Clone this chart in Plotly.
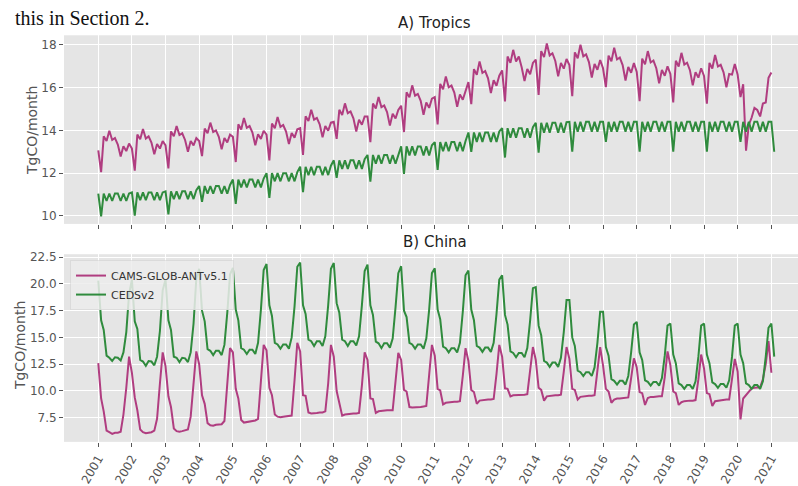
import pandas as pd
import plotly.graph_objects as go

# ---------------- data (monthly, TgCO/month) ----------------
years = list(range(2001, 2022))
year_labels = [str(y) for y in years]

tropics_cams = [
    13.07, 12.05, 13.72, 13.50, 13.98, 13.55, 13.64, 13.34, 12.78, 13.26, 13.03, 13.38,
    13.15, 12.12, 13.80, 13.58, 14.06, 13.62, 13.72, 13.43, 12.88, 13.36, 13.15, 13.50,
    13.30, 12.22, 13.95, 13.72, 14.20, 13.78, 13.86, 13.55, 13.00, 13.50, 13.30, 13.64,
    13.50, 12.80, 14.08, 13.86, 14.36, 13.92, 14.00, 13.70, 13.12, 13.64, 13.44, 13.80,
    13.70, 12.52, 14.28, 14.04, 14.58, 14.12, 14.20, 13.90, 13.30, 13.82, 13.60, 13.98,
    13.80, 12.60, 14.32, 14.10, 14.62, 14.16, 14.25, 13.94, 13.36, 13.88, 13.66, 14.05,
    14.10, 12.85, 14.66, 14.44, 14.96, 14.50, 14.58, 14.28, 13.68, 14.20, 13.98, 14.36,
    14.40, 13.60, 14.96, 14.72, 15.26, 14.80, 14.88, 14.56, 13.95, 14.50, 14.26, 14.65,
    14.65, 13.45, 15.25, 15.02, 15.56, 15.08, 15.16, 14.85, 14.22, 14.78, 14.55, 14.95,
    15.15, 13.92, 15.78, 15.54, 16.10, 15.62, 15.70, 15.38, 14.73, 15.30, 15.05, 15.48,
    15.55, 14.28, 16.17, 15.92, 16.52, 16.01, 16.09, 15.76, 15.10, 15.68, 15.43, 15.86,
    16.25, 15.22, 16.86, 16.60, 17.22, 16.68, 16.77, 16.43, 15.74, 16.34, 16.08, 16.55,
    16.80, 15.35, 17.45, 17.15, 17.76, 17.22, 17.45, 16.95, 16.30, 16.87, 16.62, 17.15,
    17.30, 15.65, 17.70, 17.42, 18.06, 17.50, 17.60, 17.24, 16.52, 17.15, 16.88, 17.33,
    17.05, 15.60, 17.64, 17.37, 18.00, 17.46, 17.55, 17.19, 16.47, 17.10, 16.83, 17.28,
    16.90, 16.02, 17.49, 17.23, 17.86, 17.31, 17.40, 17.05, 16.33, 16.96, 16.69, 17.14,
    16.73, 15.36, 17.35, 17.08, 17.70, 17.17, 17.26, 16.90, 16.20, 16.82, 16.55, 16.99,
    16.63, 15.30, 17.25, 16.98, 17.62, 17.07, 17.16, 16.81, 16.10, 16.72, 16.46, 16.90,
    16.54, 15.25, 17.15, 16.89, 17.52, 16.98, 17.06, 16.71, 16.01, 16.63, 16.60, 17.10,
    16.60, 15.55, 16.15, 13.05, 14.25, 14.60, 15.05, 14.95, 14.65, 15.25, 15.30, 16.45,
    16.70,
]

tropics_ceds = [
    11.05, 9.98, 11.05, 10.70, 11.05, 10.70, 11.05, 11.05, 10.70, 11.05, 10.70, 11.05,
    11.10, 10.02, 11.10, 10.74, 11.10, 10.74, 11.10, 11.10, 10.74, 11.10, 10.74, 11.10,
    11.15, 10.07, 11.15, 10.79, 11.15, 10.79, 11.15, 11.15, 10.79, 11.15, 10.79, 11.20,
    11.40, 10.66, 11.40, 11.04, 11.40, 11.04, 11.40, 11.40, 11.04, 11.40, 11.04, 11.45,
    11.70, 10.57, 11.70, 11.33, 11.70, 11.33, 11.70, 11.70, 11.33, 11.70, 11.33, 11.75,
    12.00, 10.84, 12.00, 11.62, 12.00, 11.62, 12.00, 12.00, 11.62, 12.00, 11.62, 12.05,
    12.30, 11.11, 12.30, 11.91, 12.30, 11.91, 12.30, 12.30, 11.91, 12.30, 11.91, 12.35,
    12.60, 11.78, 12.60, 12.20, 12.60, 12.20, 12.60, 12.60, 12.20, 12.60, 12.20, 12.65,
    12.85, 11.60, 12.85, 12.44, 12.85, 12.44, 12.85, 12.85, 12.44, 12.85, 12.44, 12.90,
    13.25, 11.96, 13.25, 12.83, 13.25, 12.83, 13.25, 13.25, 12.83, 13.25, 12.83, 13.30,
    13.45, 12.15, 13.45, 13.02, 13.45, 13.02, 13.45, 13.45, 13.02, 13.45, 13.02, 13.50,
    13.90, 13.00, 13.90, 13.46, 13.90, 13.46, 13.90, 13.90, 13.46, 13.90, 13.46, 13.95,
    14.10, 12.73, 14.10, 13.65, 14.10, 13.65, 14.10, 14.10, 13.65, 14.10, 13.65, 14.15,
    14.35, 12.96, 14.35, 13.89, 14.35, 13.89, 14.35, 14.35, 13.89, 14.35, 13.89, 14.38,
    14.40, 13.00, 14.40, 13.94, 14.40, 13.94, 14.40, 14.40, 13.94, 14.40, 13.94, 14.40,
    14.40, 13.46, 14.40, 13.94, 14.40, 13.94, 14.40, 14.40, 13.94, 14.40, 13.94, 14.40,
    14.40, 13.00, 14.40, 13.94, 14.40, 13.94, 14.40, 14.40, 13.94, 14.40, 13.94, 14.40,
    14.40, 13.00, 14.40, 13.94, 14.40, 13.94, 14.40, 14.40, 13.94, 14.40, 13.94, 14.40,
    14.40, 13.00, 14.40, 13.94, 14.40, 13.94, 14.40, 14.40, 13.94, 14.40, 13.94, 14.40,
    14.40, 13.46, 14.40, 13.94, 14.40, 13.94, 14.40, 14.40, 13.94, 14.40, 13.94, 14.40,
    14.40, 13.00,
]

china_cams = [
    12.6, 9.3, 8.1, 6.3, 6.15, 6.0, 6.1, 6.1, 6.2, 7.8, 10.3, 13.2,
    11.7, 9.4, 8.2, 6.4, 6.15, 6.05, 6.1, 6.15, 6.3, 7.4, 10.7, 13.6,
    12.3, 9.5, 8.5, 6.5, 6.25, 6.2, 6.25, 6.3, 6.4, 7.6, 10.9, 13.7,
    12.5, 9.6, 8.8, 7.0, 6.8, 6.75, 6.85, 6.85, 6.9, 7.2, 10.5, 14.0,
    13.6, 10.2, 9.3, 7.3, 7.05, 7.1, 7.15, 7.2, 7.25, 7.4, 10.8, 14.3,
    13.8, 10.3, 9.6, 7.8, 7.6, 7.55, 7.6, 7.65, 7.65, 7.7, 11.0, 14.5,
    13.7, 9.6, 9.55, 8.0, 7.9, 7.9, 7.95, 8.0, 8.0, 8.1, 10.7, 14.3,
    13.2, 10.0, 9.0, 7.7, 7.8, 7.85, 7.85, 7.9, 7.9, 7.95, 10.5, 13.6,
    12.9, 9.3, 9.25, 7.95, 8.1, 8.15, 8.15, 8.2, 8.2, 8.2, 10.9, 13.55,
    12.9, 10.1, 9.95, 8.5, 8.45, 8.45, 8.5, 8.5, 8.55, 8.6, 11.5, 14.3,
    13.3, 10.2, 10.05, 8.75, 8.9, 8.95, 9.0, 9.0, 9.0, 9.05, 11.4, 14.0,
    12.8, 10.1, 9.9, 8.8, 9.1, 9.15, 9.15, 9.2, 9.2, 9.25, 11.6, 14.3,
    13.2, 10.25, 10.2, 9.5, 9.6, 9.6, 9.65, 9.65, 9.65, 9.7, 11.7, 14.1,
    12.9, 10.3, 10.1, 9.1, 9.5, 9.55, 9.6, 9.6, 9.6, 9.65, 11.8, 14.1,
    13.0, 10.2, 10.1, 9.2, 9.45, 9.5, 9.5, 9.55, 9.55, 9.6, 11.9, 14.1,
    12.4, 10.2, 9.95, 8.9, 9.2, 9.3, 9.3, 9.35, 9.35, 9.4, 11.2, 13.05,
    12.2, 9.9, 9.8, 8.7, 9.35, 9.45, 9.45, 9.5, 9.5, 9.5, 11.3, 13.7,
    12.4, 9.95, 9.8, 8.7, 8.95, 9.05, 9.1, 9.1, 9.1, 9.15, 11.1, 13.4,
    12.1, 9.8, 9.7, 8.6, 9.05, 9.1, 9.15, 9.15, 9.2, 9.2, 11.0, 13.0,
    11.8, 7.35, 9.3, 9.65, 9.95, 10.25, 10.3, 10.35, 10.35, 11.1, 12.5, 14.65,
    11.7,
]

china_ceds = [
    20.3, 16.6, 15.7, 13.3, 13.1, 12.8, 13.15, 13.1, 12.85, 13.6, 15.5, 19.05,
    20.4, 16.5, 15.8, 12.9, 12.75, 12.35, 12.8, 12.75, 12.4, 13.2, 15.6, 19.4,
    20.4, 16.6, 15.7, 13.2, 13.1, 12.7, 13.1, 13.05, 12.7, 13.6, 16.3, 20.5,
    21.4, 17.5, 16.5, 13.9, 13.75, 13.35, 13.75, 13.75, 13.35, 14.3, 17.3, 20.9,
    21.5, 17.6, 16.6, 14.0, 13.85, 13.45, 13.85, 13.85, 13.45, 14.5, 17.6, 21.3,
    21.85, 18.0, 17.0, 14.5, 14.35, 13.95, 14.35, 14.35, 13.95, 15.0, 17.9, 21.6,
    22.0, 18.0, 17.2, 14.8, 14.65, 14.2, 14.65, 14.65, 14.2, 15.1, 18.0, 21.4,
    21.95, 18.2, 17.3, 14.8, 14.65, 14.2, 14.65, 14.65, 14.25, 15.1, 18.0, 21.2,
    21.8, 18.0, 17.1, 14.6, 14.45, 14.0, 14.45, 14.45, 14.05, 14.9, 17.8, 21.0,
    21.65, 17.5, 16.9, 14.5, 14.35, 13.95, 14.35, 14.35, 13.95, 14.9, 17.6, 21.0,
    21.45, 17.6, 16.7, 14.15, 14.0, 13.6, 14.0, 14.0, 13.6, 14.5, 17.4, 20.8,
    21.25, 17.6, 16.6, 14.2, 14.05, 13.65, 14.05, 14.05, 13.65, 14.5, 17.2, 20.4,
    20.8, 17.1, 16.2, 13.7, 13.55, 13.15, 13.55, 13.55, 13.15, 14.0, 16.6, 19.6,
    19.7, 16.1, 15.2, 12.8, 12.65, 12.25, 12.65, 12.65, 12.25, 13.1, 15.5, 18.5,
    18.5, 15.0, 14.2, 11.9, 11.75, 11.4, 11.75, 11.75, 11.4, 12.2, 14.5, 17.4,
    17.4, 14.1, 13.3, 11.1, 10.95, 10.6, 10.95, 10.95, 10.6, 11.4, 13.6, 16.2,
    16.45, 13.6, 12.9, 11.0, 10.85, 10.5, 10.85, 10.85, 10.5, 11.2, 13.3, 16.1,
    16.3, 13.4, 12.6, 10.7, 10.55, 10.2, 10.55, 10.55, 10.2, 10.9, 13.2, 16.1,
    16.3, 13.4, 12.6, 10.8, 10.65, 10.3, 10.65, 10.65, 10.3, 11.0, 13.2, 16.1,
    16.3, 13.4, 12.6, 10.7, 10.55, 10.2, 10.55, 10.55, 10.2, 10.9, 13.2, 15.9,
    16.3, 13.2,
]

tropics_yticks = [10, 12, 14, 16, 18]
china_yticks = [7.5, 10.0, 12.5, 15.0, 17.5, 20.0, 22.5]

# ---------------- figure ----------------
W, H = 798, 486
ML = 64
PW = W - ML

def py(p):  # pixel-from-top -> paper y
    return 1 - p / H

def px(p):  # pixel-from-left -> paper x
    return (p - ML) / PW

PINK = "#b03d80"
GREEN = "#2f8b3d"

def dates(n):
    return pd.date_range("2001-01-01", periods=n, freq="MS")

tick_dates = [pd.Timestamp(f"{y}-01-01") for y in years]

fig = go.Figure()
fig.add_trace(go.Scatter(x=dates(len(tropics_cams)), y=tropics_cams, mode="lines",
                         line=dict(color=PINK, width=2), xaxis="x", yaxis="y",
                         showlegend=False, name="CAMS-GLOB-ANTv5.1"))
fig.add_trace(go.Scatter(x=dates(len(tropics_ceds)), y=tropics_ceds, mode="lines",
                         line=dict(color=GREEN, width=2), xaxis="x", yaxis="y",
                         showlegend=False, name="CEDSv2"))
fig.add_trace(go.Scatter(x=dates(len(china_cams)), y=china_cams, mode="lines",
                         line=dict(color=PINK, width=2), xaxis="x2", yaxis="y2",
                         name="CAMS-GLOB-ANTv5.1"))
fig.add_trace(go.Scatter(x=dates(len(china_ceds)), y=china_ceds, mode="lines",
                         line=dict(color=GREEN, width=2), xaxis="x2", yaxis="y2",
                         name="CEDSv2"))

xr = ["1999-12-26", "2021-10-17"]
tickfont = dict(family="DejaVu Sans", size=12, color="#555555")
common_x = dict(range=xr, tickvals=tick_dates, ticktext=year_labels, showgrid=True,
                gridcolor="white", gridwidth=1.3, ticks="outside", ticklen=4,
                tickcolor="#555555", tickwidth=1, zeroline=False, showline=False,
                tickfont=tickfont)
common_y = dict(showgrid=True, gridcolor="white", gridwidth=1.3, ticks="outside",
                ticklen=4, tickcolor="#555555", tickwidth=1, zeroline=False,
                showline=False, tickfont=tickfont)

fig.update_layout(
    width=W, height=H,
    margin=dict(l=ML, r=0, t=0, b=0),
    paper_bgcolor="white",
    plot_bgcolor="#E5E5E5",
    font=dict(family="DejaVu Sans", color="#333333"),
    xaxis=dict(domain=[0, 1], anchor="y", showticklabels=False, **common_x),
    yaxis=dict(domain=[py(225), py(32)], anchor="x", range=[9.63, 18.44],
               tickvals=tropics_yticks, **common_y),
    xaxis2=dict(domain=[0, 1], anchor="y2", tickangle=-60, **common_x),
    yaxis2=dict(domain=[py(448), py(256)], anchor="x2", range=[5.25, 22.77],
                tickvals=china_yticks, tickformat=".1f", **common_y),
    legend=dict(x=px(70), y=py(262), xanchor="left", yanchor="top",
                bgcolor="rgba(236,236,236,0.85)", bordercolor="rgba(210,210,210,0.6)",
                borderwidth=1, font=dict(family="DejaVu Sans", size=11, color="#333333"),
                itemwidth=30, tracegroupgap=0),
    showlegend=True,
)

ann = []
ann.append(dict(text="A) Tropics", x=px(434.5), y=py(19), xref="paper", yref="paper",
                showarrow=False, xanchor="center", yanchor="middle",
                font=dict(family="DejaVu Sans", size=15, color="#222222")))
ann.append(dict(text="B) China", x=px(434.5), y=py(243), xref="paper", yref="paper",
                showarrow=False, xanchor="center", yanchor="middle",
                font=dict(family="DejaVu Sans", size=15, color="#222222")))
ann.append(dict(text="TgCO/month", x=px(32), y=py(130), xref="paper", yref="paper",
                showarrow=False, textangle=-90, xanchor="center", yanchor="middle",
                font=dict(family="DejaVu Sans", size=14, color="#555555")))
ann.append(dict(text="TgCO/month", x=px(20), y=py(350), xref="paper", yref="paper",
                showarrow=False, textangle=-90, xanchor="center", yanchor="middle",
                font=dict(family="DejaVu Sans", size=14, color="#555555")))
ann.append(dict(text="this in Section 2.", x=px(13), y=py(0), xref="paper", yref="paper",
                showarrow=False, xanchor="left", yanchor="top", yshift=-1,
                font=dict(family="Liberation Serif", size=20, color="#111111")))
fig.update_layout(annotations=ann)

fig.write_html("out.html")
